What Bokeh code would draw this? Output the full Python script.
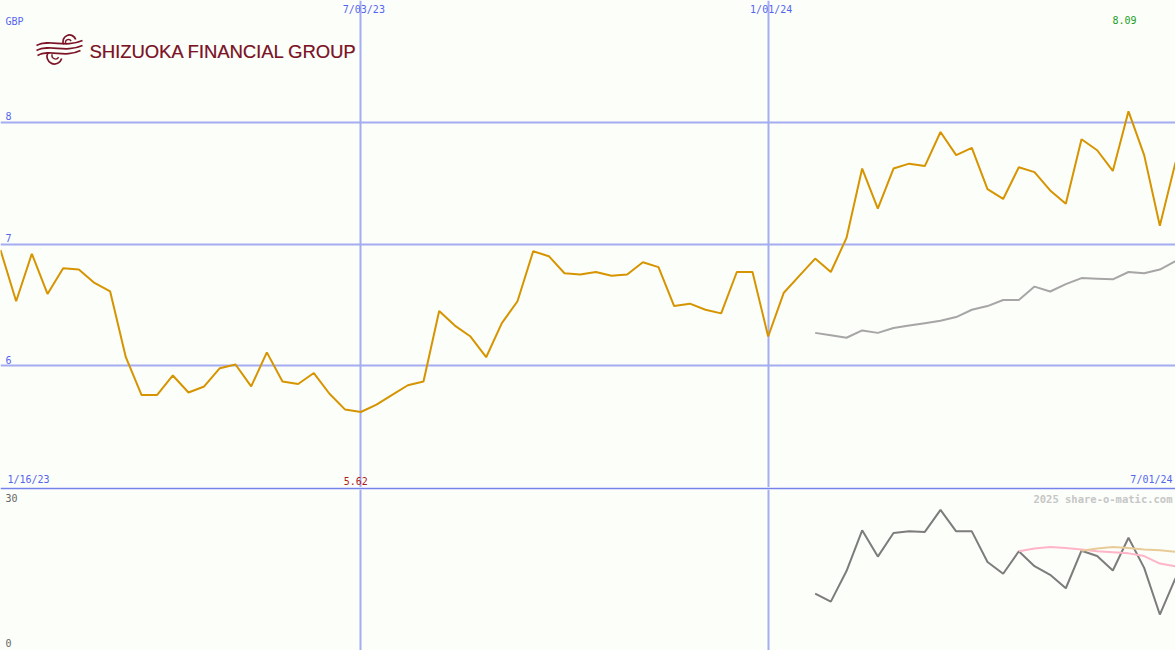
import pandas as pd
from bokeh.plotting import figure
from bokeh.layouts import column
from bokeh.models import Range1d, FixedTicker
from bokeh.core.properties import value
from bokeh.embed import file_html
from bokeh.resources import INLINE

# ---------------- data ----------------
start_date = "2023-01-23"
n_weeks = 76
dates = pd.date_range(start_date, periods=n_weeks, freq="7D")

price = [6.95, 6.53, 6.92, 6.59, 6.80, 6.79, 6.68, 6.61, 6.07, 5.76,
         5.76, 5.92, 5.78, 5.83, 5.98, 6.01, 5.83, 6.11, 5.87, 5.85,
         5.94, 5.77, 5.64, 5.62, 5.68, 5.76, 5.84, 5.87, 6.45, 6.33,
         6.24, 6.07, 6.35, 6.53, 6.94, 6.90, 6.76, 6.75, 6.77, 6.74,
         6.75, 6.85, 6.81, 6.49, 6.51, 6.46, 6.43, 6.77, 6.77, 6.24,
         6.60, 6.74, 6.88, 6.77, 7.05, 7.62, 7.29, 7.62, 7.66, 7.64,
         7.92, 7.73, 7.79, 7.45, 7.37, 7.63, 7.59, 7.44, 7.33, 7.86,
         7.77, 7.60, 8.09, 7.73, 7.15, 7.67]

ma_start = 52
moving_avg = [6.27, 6.25, 6.23, 6.29, 6.27, 6.31, 6.33, 6.35, 6.37, 6.40,
              6.46, 6.49, 6.54, 6.54, 6.65, 6.61, 6.67, 6.72, 6.715, 6.71,
              6.77, 6.76, 6.79, 6.86]

osc_start = 52
oscillator = [10.6, 9.1, 14.8, 22.4, 17.5, 21.9, 22.2, 22.1, 26.2, 22.2,
              22.2, 16.5, 14.3, 18.5, 15.7, 14.1, 11.6, 18.6, 17.6, 14.9,
              21.0, 15.4, 6.7, 13.5]

pink_start = 65
pink_avg = [18.5, 19.0, 19.3, 19.1, 18.8, 18.5, 18.3, 18.1, 17.6, 16.2, 15.7]

tan_start = 69
tan_avg = [18.6, 19.0, 19.3, 19.1, 18.8, 18.7, 18.4]

y_ticks = [6, 7, 8]
y_tick_labels = ["6", "7", "8"]
x_tick_dates = ["2023-07-03", "2024-01-01"]
x_tick_labels = ["7/03/23", "1/01/24"]
first_label = "1/16/23"
last_label = "7/01/24"
currency = "GBP"
osc_ticks = [0, 30]
osc_tick_labels = ["0", "30"]
company = "SHIZUOKA FINANCIAL GROUP"
watermark = "2025 share-o-matic.com"

# ---------------- style ----------------
BG = "#fcfefa"
GRID = "#a4acf2"
SEP = "#7482ea"
LBL = "#5566ee"
PRICE_C = "#d69400"
MA_C = "#a6a6a6"
OSC_C = "#7c7c7c"
PINK_C = "#ffb4c8"
TAN_C = "#e8cc98"
MONO = value("DejaVu Sans Mono")

W = 1175
H_TOP = 487
H_BOT = 163

x_rng = Range1d(dates[0], dates[-1])
tick_ms = [pd.Timestamp(d).value / 1e6 for d in x_tick_dates]

# ---------------- top panel ----------------
p = figure(width=W, height=H_TOP, x_axis_type="datetime", x_range=x_rng,
           y_range=Range1d(5, 9), output_backend="svg", toolbar_location=None,
           min_border=0, background_fill_color=BG, border_fill_color=BG,
           outline_line_color=None)
p.xaxis.visible = False
p.yaxis.visible = False
p.xgrid.ticker = FixedTicker(ticks=tick_ms)
p.ygrid.ticker = FixedTicker(ticks=y_ticks)
for g in (p.xgrid, p.ygrid):
    g.grid_line_color = GRID
    g.grid_line_width = 2
p.extra_x_ranges = {"px": Range1d(0, 1175)}
p.extra_y_ranges = {"px": Range1d(487, 0)}

p.line(dates, price, line_color=PRICE_C, line_width=2)
p.line(dates[ma_start:], moving_avg, line_color=MA_C, line_width=2)

# y tick labels
p.text(x=[dates[0]] * len(y_ticks), y=y_ticks, text=y_tick_labels,
       x_offset=5, y_offset=-2, text_font=MONO, text_font_size="10px",
       text_color=LBL, text_align="left", text_baseline="bottom")
# x tick labels (top)
p.text(x=pd.to_datetime(x_tick_dates), y=[9, 9], text=x_tick_labels,
       x_offset=3, y_offset=3, text_font=MONO, text_font_size="10px",
       text_color=LBL, text_align="center", text_baseline="top")
# currency
p.text(x=[dates[0]], y=[9], text=[currency], x_offset=5, y_offset=15,
       text_font=MONO, text_font_size="10px", text_color=LBL,
       text_align="left", text_baseline="top")
# max / min labels
imax = price.index(max(price))
imin = price.index(min(price))
p.text(x=[dates[imax]], y=[9], text=[f"{max(price):.2f}"], x_offset=-4, y_offset=15,
       text_font=MONO, text_font_size="10px", text_color="#22a022",
       text_align="center", text_baseline="top")
p.text(x=[dates[imin]], y=[5], text=[f"{min(price):.2f}"], x_offset=-5, y_offset=-3,
       text_font=MONO, text_font_size="10px", text_color="#b01c1c",
       text_align="center", text_baseline="bottom")
# range dates
p.text(x=[dates[0]], y=[5], text=[first_label], x_offset=7, y_offset=-3,
       text_font=MONO, text_font_size="10px", text_color=LBL,
       text_align="left", text_baseline="bottom")
p.text(x=[dates[-1]], y=[5], text=[last_label], x_offset=-3, y_offset=-3,
       text_font=MONO, text_font_size="10px", text_color=LBL,
       text_align="right", text_baseline="bottom")

# logo
LOGO = "#7b1426"
for dx, alpha in ((89.0, 1.0), (89.4, 0.5)):
    p.text(x=[dx], y=[50.5], text=[company], x_range_name="px", y_range_name="px",
           text_font=value("Liberation Sans"), text_font_size="18.4px",
           text_color=LOGO, text_align="left", text_baseline="alphabetic",
           text_alpha=alpha)
p.bezier(x0=[36, 36, 37], y0=[45, 50, 55], x1=[82, 82, 80], y1=[40, 45, 50],
         cx0=[50, 50, 50], cy0=[38, 43, 48], cx1=[64, 64, 64], cy1=[48, 53, 58],
         x_range_name="px", y_range_name="px", line_color=LOGO, line_width=1.7)
p.arc(x=[69, 54], y=[41, 56], radius=[6.5, 7.5], start_angle=[0.3, 2.6],
      end_angle=[3.6, 6.0], direction="anticlock",
      x_range_name="px", y_range_name="px", line_color=LOGO, line_width=1.7)
p.arc(x=[68, 55], y=[42, 55], radius=[3, 3.5], start_angle=[0.5, 2.8],
      end_angle=[3.4, 5.8], direction="anticlock",
      x_range_name="px", y_range_name="px", line_color=LOGO, line_width=1.4)

# ---------------- bottom panel ----------------
q = figure(width=W, height=H_BOT, x_axis_type="datetime", x_range=x_rng,
           y_range=Range1d(0, 30), output_backend="svg", toolbar_location=None,
           min_border=0, min_border_top=2, background_fill_color=BG,
           border_fill_color=SEP, outline_line_color=None)
q.xaxis.visible = False
q.yaxis.visible = False
q.xgrid.ticker = FixedTicker(ticks=tick_ms)
q.xgrid.grid_line_color = GRID
q.xgrid.grid_line_width = 2
q.ygrid.visible = False

q.line(dates[osc_start:], oscillator, line_color=OSC_C, line_width=2)
q.line(dates[pink_start:], pink_avg, line_color=PINK_C, line_width=2)
q.line(dates[tan_start:], tan_avg, line_color=TAN_C, line_width=2)

q.text(x=[dates[0]], y=[osc_ticks[1]], text=[osc_tick_labels[1]], x_offset=5, y_offset=4,
       text_font=MONO, text_font_size="10px", text_color="#666666",
       text_align="left", text_baseline="top")
q.text(x=[dates[0]], y=[osc_ticks[0]], text=[osc_tick_labels[0]], x_offset=5, y_offset=-4,
       text_font=MONO, text_font_size="10px", text_color="#666666",
       text_align="left", text_baseline="bottom")
q.text(x=[dates[-1]], y=[30], text=[watermark], x_offset=-3, y_offset=3,
       text_font=MONO, text_font_size="10.5px", text_font_style="bold",
       text_color="#c6c6c6", text_align="right", text_baseline="top")

layout = column(p, q, spacing=0)
open("out.html", "w").write(file_html(layout, INLINE))
